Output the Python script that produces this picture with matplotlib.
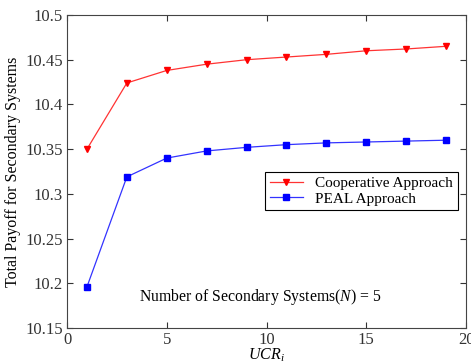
import matplotlib
matplotlib.use('Agg')
import matplotlib.pyplot as plt

plt.rcParams['font.family'] = ['Liberation Serif', 'DejaVu Serif']
plt.rcParams['mathtext.fontset'] = 'custom'
plt.rcParams['mathtext.rm'] = 'Liberation Serif'
plt.rcParams['mathtext.it'] = 'Liberation Serif:italic'

# payoff vs. UCR_i
ucr = [1, 3, 5, 7, 9, 11, 13, 15, 17, 19]
coop_payoff = [10.350, 10.424, 10.438, 10.445, 10.450, 10.453, 10.456, 10.460, 10.462, 10.465]
peal_payoff = [10.196, 10.319, 10.340, 10.348, 10.352, 10.355, 10.357, 10.358, 10.359, 10.360]

fig = plt.figure(figsize=(4.71, 3.64), dpi=100)
ax = fig.add_axes([67 / 471, 36 / 364, 399 / 471, 313 / 364])

ax.plot(ucr, coop_payoff, '-v', color='#ff3333', markerfacecolor='red', markeredgecolor='red',
        markersize=5, linewidth=0.9, label='Cooperative Approach')
ax.plot(ucr, peal_payoff, '-s', color='#3333ff', markerfacecolor='blue', markeredgecolor='blue',
        markersize=5, linewidth=0.9, label='PEAL Approach')

ax.set_xlim(0, 20)
ax.set_ylim(10.15, 10.5)
ax.set_xticks([0, 5, 10, 15, 20])
ax.set_yticks([10.15, 10.2, 10.25, 10.3, 10.35, 10.4, 10.45, 10.5])
ax.set_yticklabels(['10.15', '10.2', '10.25', '10.3', '10.35', '10.4', '10.45', '10.5'])
ax.tick_params(direction='in', top=True, right=True, labelsize=12, length=4, colors='#333333', pad=3)
for s in ax.spines.values():
    s.set_color('#444444')

ax.set_xlabel(r'$UCR_i$', fontsize=11.5, labelpad=-1)
ax.set_ylabel('Total Payoff for Secondary Systems', fontsize=11.5, labelpad=3)

ax.text(0.484, 0.099, r'Number of Secondary Systems($N$) = 5', transform=ax.transAxes,
        ha='center', va='center', fontsize=11.3)

leg = ax.legend(loc='upper left', bbox_to_anchor=(198 / 399, 1 - 157 / 313), fontsize=11,
                fancybox=False, framealpha=1, edgecolor='black', borderpad=0.3,
                labelspacing=0.1, handlelength=2.2, borderaxespad=0)
leg.get_frame().set_linewidth(0.8)

fig.savefig('out.png', dpi=100, facecolor='white')
